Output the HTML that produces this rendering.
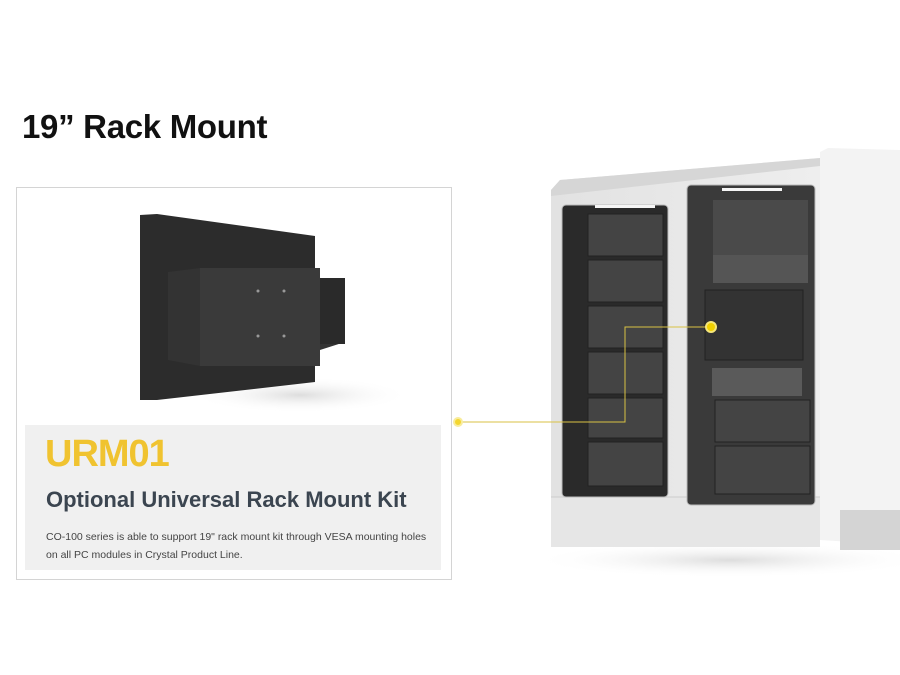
<!DOCTYPE html>
<html><head><meta charset="utf-8"><style>
body{margin:0;width:900px;height:675px;background:#fff;position:relative;overflow:hidden;font-family:"Liberation Sans",sans-serif}
.a{position:absolute}
</style></head><body>
<div class="a" style="left:22px;top:108px;font-size:33px;font-weight:bold;color:#111;letter-spacing:-0.3px">19” Rack Mount</div>
<div class="a" style="left:16px;top:187px;width:434px;height:391px;border:1px solid #d4d4d4"></div>
<svg class="a" style="left:0;top:0" width="900" height="675">
 <defs>
  <linearGradient id="cab" x1="0" x2="1"><stop offset="0" stop-color="#e2e2e2"/><stop offset="1" stop-color="#eeeeee"/></linearGradient>
  <radialGradient id="sh" cx="0.5" cy="0.5" r="0.5"><stop offset="0" stop-color="#ddd"/><stop offset="1" stop-color="#fff" stop-opacity="0"/></radialGradient>
 </defs>
 <ellipse cx="300" cy="395" rx="110" ry="18" fill="url(#sh)"/>
 <polygon points="140,215 157,214 315,236 315,382 157,400 140,400" fill="#2c2c2c"/>
 <polygon points="168,272 200,268 345,280 345,342 320,350 320,358 200,366 168,360" fill="#333"/>
 <rect x="200" y="268" width="120" height="98" fill="#3a3a3a"/>
 <rect x="320" y="278" width="25" height="66" fill="#2a2a2a"/>
 <g fill="#999"><circle cx="258" cy="291" r="1.5"/><circle cx="284" cy="291" r="1.5"/><circle cx="258" cy="336" r="1.5"/><circle cx="284" cy="336" r="1.5"/></g>
 <rect x="25" y="425" width="416" height="145" fill="#f0f0f0"/>
 <ellipse cx="730" cy="560" rx="200" ry="18" fill="url(#sh)"/>
 <polygon points="820,152 828,148 900,150 900,545 820,540" fill="#f3f3f3"/>
 <polygon points="551,190 560,180 820,158 820,540 551,540" fill="url(#cab)"/>
 <polygon points="551,190 560,180 820,158 820,166 551,196" fill="#d6d6d6"/>
 <rect x="551" y="497" width="269" height="50" fill="#e6e6e6"/>
 <line x1="551" y1="497" x2="820" y2="497" stroke="#ccc"/>
 <rect x="840" y="510" width="60" height="40" fill="#d4d4d4"/>
 <rect x="562" y="205" width="106" height="292" rx="4" fill="#2a2a2a" stroke="#bbb"/>
 <rect x="687" y="185" width="128" height="320" rx="4" fill="#3a3a3a" stroke="#bbb"/>
 <rect x="595" y="205" width="60" height="3" fill="#f5f5f5"/>
 <rect x="722" y="188" width="60" height="3" fill="#f5f5f5"/>
 <g fill="#444" stroke="#222">
  <rect x="588" y="214" width="75" height="42"/><rect x="588" y="260" width="75" height="42"/>
  <rect x="588" y="306" width="75" height="42"/><rect x="588" y="352" width="75" height="42"/>
  <rect x="588" y="398" width="75" height="40"/><rect x="588" y="442" width="75" height="44"/>
  <rect x="715" y="400" width="95" height="42"/><rect x="715" y="446" width="95" height="48"/>
 </g>
 <rect x="713" y="200" width="95" height="55" fill="#4a4a4a"/>
 <rect x="713" y="255" width="95" height="28" fill="#555"/>
 <rect x="705" y="290" width="98" height="70" fill="#333" stroke="#222"/>
 <rect x="712" y="368" width="90" height="28" fill="#5a5a5a"/>
 <polyline points="462,422 625,422 625,327 707,327" fill="none" stroke="#d9c244" stroke-width="1"/>
 <circle cx="458" cy="422" r="4" fill="#f3d630" stroke="#f8ec9c" stroke-width="2"/>
 <circle cx="711" cy="327" r="5" fill="#f0d000" stroke="#f5e67a" stroke-width="2"/>
</svg>
<div class="a" style="left:45px;top:433px;font-size:38px;font-weight:bold;color:#f0c330;letter-spacing:-1px">URM01</div>
<div class="a" style="left:46px;top:487px;font-size:22px;font-weight:bold;color:#3b4550">Optional Universal Rack Mount Kit</div>
<div class="a" style="left:46px;top:528px;font-size:10.5px;color:#444;line-height:18px">CO-100 series is able to support 19" rack mount kit through VESA mounting holes<br>on all PC modules in Crystal Product Line.</div>
</body></html>
